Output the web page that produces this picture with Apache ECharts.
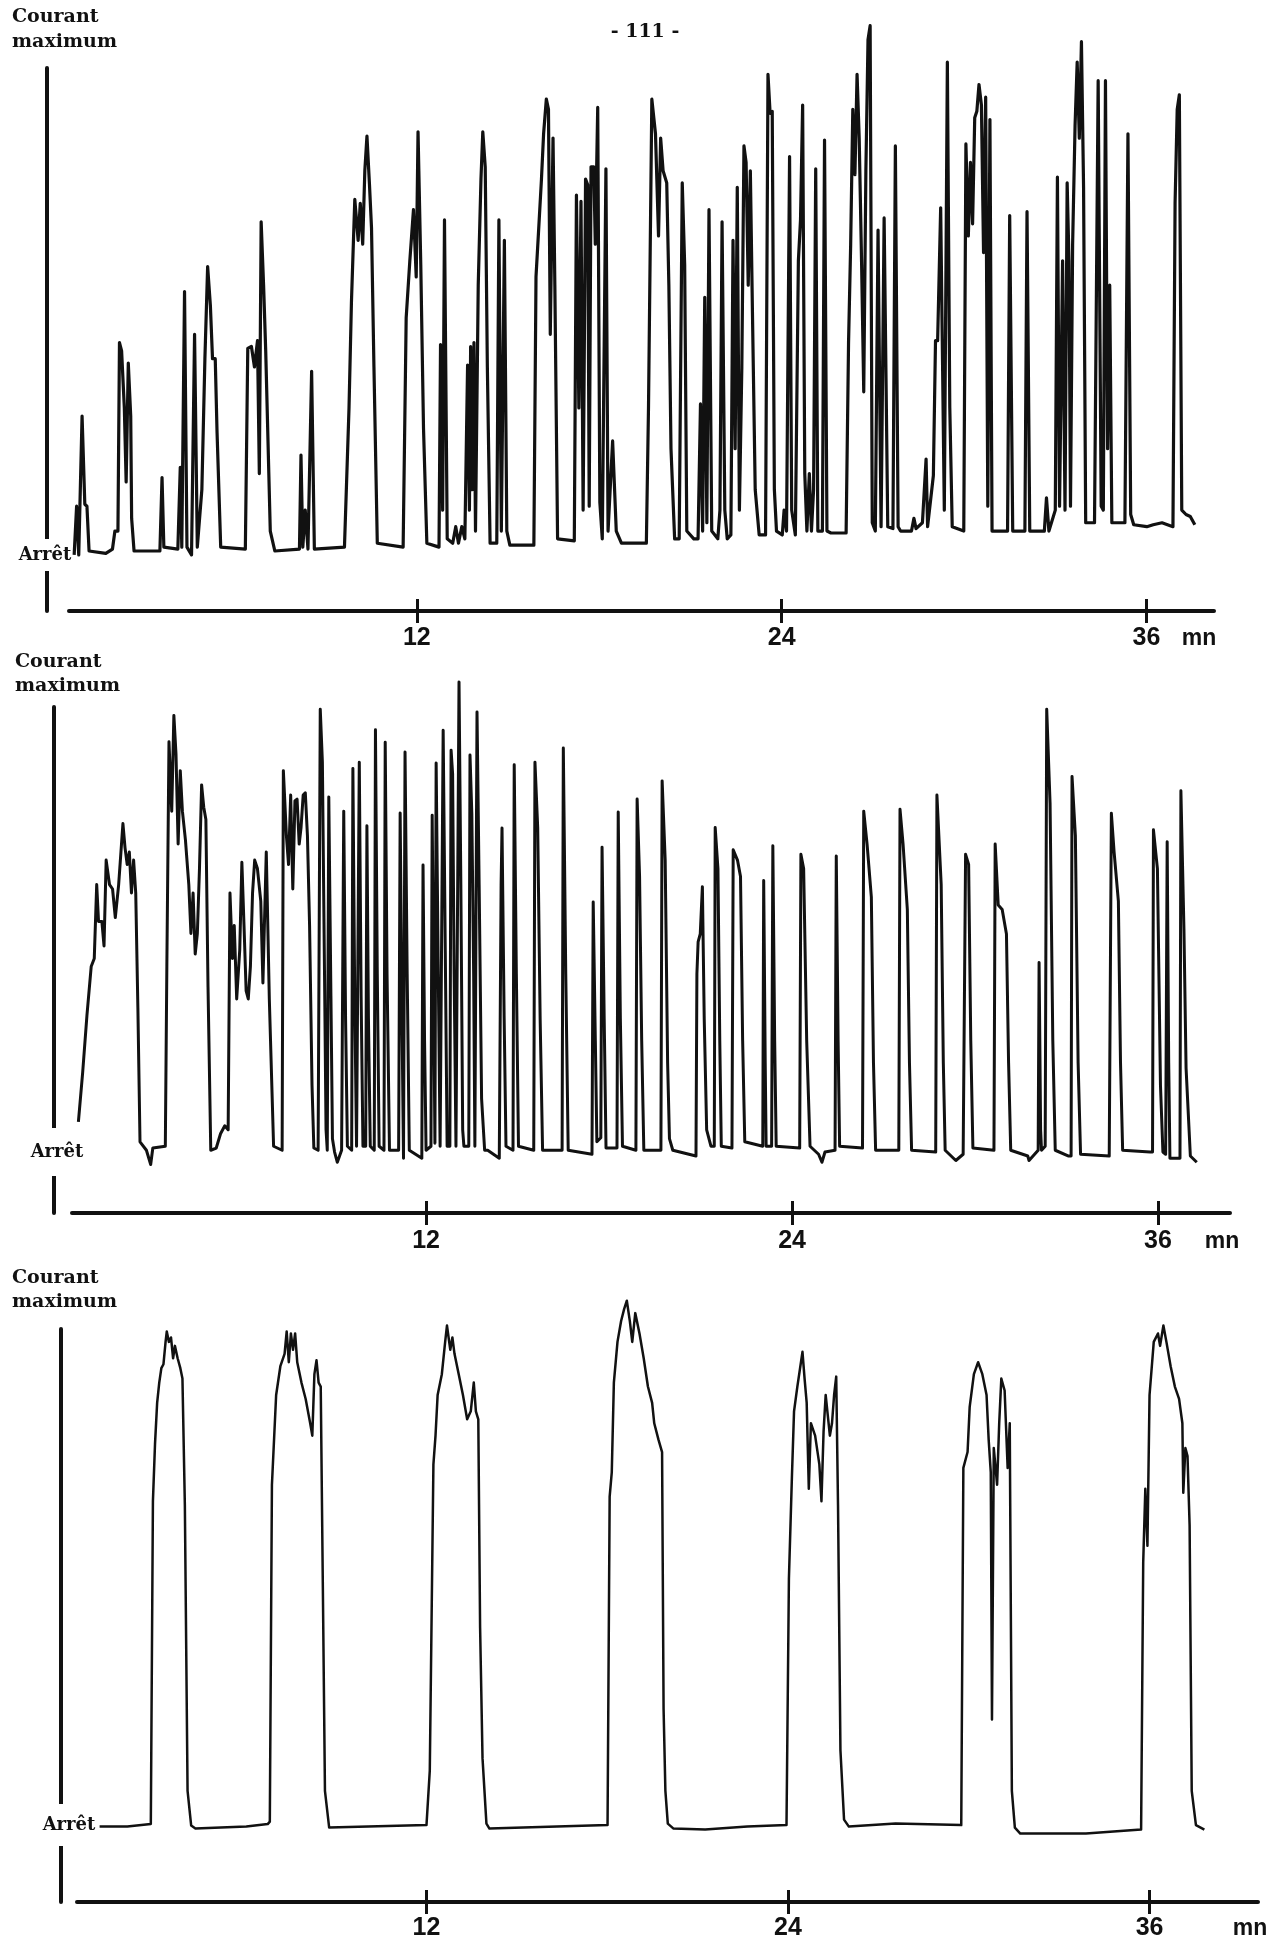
<!DOCTYPE html>
<html>
<head>
<meta charset="utf-8">
<script src="https://cdn.jsdelivr.net/npm/echarts@6/dist/echarts.min.js"></script>
<style>
html,body{margin:0;padding:0;background:#fff;}
#chart{width:1277px;height:1946px;}
</style>
</head>
<body>
<div id="chart"></div>
<script>
// ---- text ----
const pageNumber = '- 111 -';
const yTopLabel = ['Courant', 'maximum'];
const yStopLabel = 'Arrêt';
const unitLabel = 'mn';
const tickValues = [12, 24, 36];

// ---- panel 1 : time (min) / current (0 = Arrêt, 100 = Courant maximum) ----
const p1T = [0.73,0.81,0.88,0.99,1.08,1.15,1.22,1.77,1.99,2.07,2.17,2.22,2.29,2.38,2.44,2.51,2.59,2.62,2.70,3.55,3.62,3.68,4.14,4.22,4.27,4.36,4.44,4.59,4.69,4.78,4.93,5.03,5.12,5.21,5.28,5.37,5.43,5.55,6.36,6.44,6.56,6.66,6.76,6.82,6.88,6.96,7.03,7.18,7.33,8.14,8.19,8.25,8.33,8.42,8.54,8.63,9.62,9.77,9.85,9.96,10.07,10.14,10.22,10.29,10.36,10.44,10.51,10.59,10.70,11.55,11.65,11.77,11.89,11.98,12.04,12.13,12.22,12.33,12.73,12.78,12.85,12.91,13.0,13.18,13.28,13.37,13.48,13.58,13.67,13.73,13.77,13.82,13.88,13.93,14.02,14.11,14.17,14.25,14.32,14.41,14.63,14.70,14.78,14.88,14.96,15.06,15.85,15.92,16.01,16.10,16.17,16.26,16.33,16.39,16.48,16.54,16.63,17.18,17.25,17.33,17.40,17.47,17.55,17.62,17.67,17.73,17.82,17.87,17.95,18.02,18.10,18.22,18.29,18.44,18.56,18.73,19.55,19.62,19.73,19.85,19.95,20.02,20.10,20.22,20.29,20.36,20.48,20.63,20.73,20.81,20.88,
21.11,21.25,21.33,21.40,21.47,21.54,21.61,21.70,21.90,21.97,22.04,22.13,22.21,22.33,22.40,22.47,22.54,22.61,22.69,22.76,22.83,22.90,22.97,23.04,23.13,23.26,23.47,23.55,23.62,23.69,23.76,23.83,24.02,24.08,24.16,24.26,24.33,24.45,24.55,24.62,24.69,24.76,24.83,24.91,24.98,25.05,25.12,25.19,25.34,25.41,25.49,25.62,26.12,26.20,26.27,26.34,26.41,26.48,26.55,26.63,26.70,26.77,26.84,26.91,26.98,27.08,27.17,27.27,27.37,27.49,27.66,27.74,27.83,27.91,28.27,28.35,28.42,28.63,28.75,28.80,28.99,29.06,29.13,29.23,29.35,29.45,29.53,29.61,29.99,30.06,30.14,30.21,30.28,30.35,30.42,30.49,30.57,30.64,30.71,30.78,30.85,30.92,31.43,31.50,31.60,32.0,32.07,32.16,32.64,32.71,32.79,33.0,33.07,33.14,33.24,33.32,33.39,33.45,33.50,33.57,33.65,33.72,33.79,33.86,33.93,34.0,34.29,34.41,34.51,34.58,34.65,34.72,34.79,34.86,35.29,35.39,35.48,35.58,36.01,36.22,36.51,36.87,36.94,37.01,37.08,37.16,37.30,37.44,37.59];
const p1V = [0,10,0,28.5,10.4,10,0.8,0.3,1.2,4.9,4.9,43.6,41.9,30.2,15,39.4,28.5,7.5,0.8,0.8,15.9,1.6,1.2,18,1.6,54.1,1.6,0,45.3,1.6,13.4,40.3,59.2,51.2,40.3,40.3,25.1,1.6,1.2,42.4,42.8,38.6,44,16.7,68.4,55.4,41.9,4.9,0.8,1.2,20.5,1.6,9.2,1.2,37.7,1.2,1.6,30.2,52,73,64.6,72.2,63.8,78.9,86,76.4,67.1,38.6,2.4,1.6,48.7,60.4,70.9,57.1,86.9,59.6,26,2.4,1.6,43.2,9.2,68.8,3.3,2.4,5.8,2.4,5.8,3.3,39,9.2,42.8,13.4,43.6,4.9,55.4,77.2,86.9,79.7,38.6,2.4,2.4,68.8,4.9,64.6,4.9,2,2,57.1,67.1,77.2,86.5,93.6,91.5,45.3,85.6,55.4,3.3,2.9,73.9,30.2,72.6,9.2,77.2,76,10,79.7,79.7,63.8,91.9,10.8,3.3,79.3,4.9,23.4,4.9,2.4,2.4,30.2,93.6,86.5,65.5,85.6,78.9,76.4,55.4,21.8,3.3,3.3,76.4,59.6,4.9,
3.3,3.3,31,4.9,52.9,6.6,70.9,4.9,3.3,9.2,68.4,9.2,3.3,4.1,64.6,21.8,75.5,9.2,38.6,84,80.6,55.4,78.9,49.5,13.4,4.1,4.1,98.7,90.7,91.1,13.4,4.9,4.1,9.2,4.9,81.8,9.2,4.1,60.4,68.8,92.4,16.7,4.9,16.7,4.9,13.4,79.3,4.9,4.9,85.2,4.9,4.5,4.5,43.6,63.8,91.5,78.1,98.7,85.6,59.6,33.5,78.9,105.8,108.7,6.6,4.9,66.7,5.8,69.2,5.8,5.4,84,5.8,4.9,4.9,7.5,5.4,6.6,19.7,5.8,16.3,44,44,71.3,9.2,101.2,30.2,5.8,4.9,84.4,65.5,80.6,68,89.8,91.1,96.6,92.4,62.1,94,10,89.4,4.9,4.9,69.7,4.9,4.9,70.5,4.9,4.9,11.7,4.9,9.2,77.6,10,60.4,9.2,76.4,60.4,10,63.8,88.1,101.2,85.6,105.4,75.5,6.6,6.6,97.4,10,9.2,97.4,21.8,55.4,6.6,6.6,86.5,8.3,6.2,5.8,6.2,6.6,5.8,72.2,91.5,94.5,9.2,8.3,7.9,6.2];

// ---- panel 2 ----
const p2T = [0.60,0.74,0.88,1.02,1.12,1.20,1.26,1.37,1.44,1.51,1.62,1.72,1.81,1.92,2.06,2.13,2.20,2.27,2.34,2.41,2.48,2.55,2.62,2.83,2.97,3.04,3.45,3.50,3.57,3.66,3.73,3.80,3.87,3.94,4.01,4.11,4.22,4.29,4.36,4.43,4.50,4.57,4.64,4.71,4.78,4.85,4.94,5.12,5.26,5.40,5.51,5.57,5.65,5.71,5.79,5.89,5.96,6.03,6.10,6.17,6.24,6.31,6.38,6.47,6.58,6.65,6.76,6.86,7.0,
7.28,7.32,7.42,7.49,7.56,7.63,7.70,7.77,7.84,7.90,7.97,8.04,8.11,8.18,8.26,8.32,8.46,8.50,
8.53,8.60,8.67,8.72,8.76,8.78,8.81,8.88,8.93,9.0,9.09,9.23,9.27,9.30,9.36,9.42,9.56,9.60,9.66,9.72,9.78,9.81,9.87,9.93,10.02,10.06,10.11,10.17,10.30,10.34,10.40,10.46,10.62,10.66,10.72,10.80,
11.10,11.15,11.21,11.26,11.31,11.38,11.45,11.86,11.90,11.95,12.0,12.16,12.20,12.25,12.29,12.31,12.33,12.40,12.46,12.52,12.56,12.63,12.69,12.78,12.82,12.87,12.92,12.98,13.04,13.08,13.14,13.20,13.24,13.40,13.44,13.50,13.56,13.60,13.63,13.67,13.74,13.82,13.92,14.02,14.40,14.44,14.46,14.49,14.56,14.62,
14.85,14.89,14.96,15.03,15.53,15.57,15.66,15.74,15.82,16.46,16.50,16.58,16.66,17.44,17.48,17.55,17.60,17.73,17.77,17.84,17.90,18.26,18.30,18.37,18.44,18.88,18.92,19.0,19.07,19.14,19.70,19.74,19.84,19.92,19.98,20.09,
20.85,20.88,20.92,20.99,21.06,21.12,21.20,21.34,21.45,21.48,21.57,21.63,21.68,22.03,22.07,22.21,22.31,22.38,22.45,23.04,23.07,23.12,23.15,23.33,23.37,23.43,23.48,24.25,24.29,24.38,24.48,24.59,24.87,24.98,25.08,25.41,25.45,25.51,25.56,26.31,26.35,26.46,26.60,26.67,26.74,27.50,27.54,27.64,27.78,27.85,27.92,28.71,28.75,28.89,28.96,29.02,29.37,29.61,29.66,29.69,29.79,29.86,29.93,30.62,30.66,30.76,30.89,31.03,31.10,31.17,31.73,31.77,32.07,32.10,32.15,32.18,32.30,32.35,32.46,32.55,32.63,33.07,33.15,33.18,33.29,33.38,33.46,34.40,34.44,34.47,34.56,34.70,34.77,34.84,35.74,35.82,35.85,35.98,36.08,36.16,36.25,36.28,36.30,36.35,36.39,36.61,36.72,36.75,36.85,36.92,37.06,37.27];
const p2V = [6.8,17.9,30.7,41.7,43.5,60.1,51.8,51.8,46.3,65.6,60.1,59.1,52.7,60.1,73.8,68.3,64.6,67.4,58.2,65.6,58.2,32.5,2.3,0.4,-2.8,0.9,1.3,41.7,92.2,76.6,98.1,89.4,69.2,85.7,76.6,70.1,60.1,49.1,58.2,44.5,49.1,63.7,82.5,77.5,74.7,37.1,0.4,0.9,4.1,5.9,5.0,58.2,43.5,50.9,34.4,45.4,65.1,50.9,36.2,34.4,41.7,58.2,65.6,63.7,56.4,38,67.4,34.4,1.3,
0.4,85.7,71.1,64.6,80.2,59.1,78.9,79.3,69.2,72.9,80.2,80.7,71.1,50.9,15,0.9,0.4,0.5,
99.5,87.6,40,5,0.4,0.4,79.8,35,3,0,-2.3,0.4,0.4,76.6,30,1.3,0.4,86.2,35,1.3,1.3,87.6,35,1.3,1.3,73.3,30,1.3,0.4,94.9,40,1.3,0.4,92.1,40,0.4,
0.4,76.2,30,-1.4,89.9,40,0.4,-1.4,64.5,25,0.4,1.3,75.7,35,2,2,87.4,40,1.3,1.3,94.8,45,1.3,1.3,90.3,85,40,1.3,1.3,105.6,60,5,1.3,1.3,89.2,76,40,1.3,1.3,98.9,60,12,0.4,0.4,-1.4,-1.4,60,72.8,30,1.3,
0.4,87,40,1.3,0.4,87.6,72.9,30,0.4,0.4,90.8,40,0.4,-0.5,56.2,25,2.3,3.2,68.5,30,0.9,0.9,76.4,30,1.3,0.4,79.3,61.9,25,0.4,0.4,83.4,65.6,20,3,0.4,
-0.9,40,47.2,49.0,59.6,30,5.0,1.3,1.3,72.9,63.7,25,1.3,0.9,67.9,65.6,61.9,25,2.3,1.3,61,20,1.3,1.3,68.8,25,1.3,0.9,66.9,63.7,25,1.3,-0.5,-2.3,0,0.4,66.5,25,1.3,0.9,76.6,69.2,57.3,20,0.4,0.4,77,69.2,54.5,20,0.4,0,80.2,60.1,20,0.4,-1.9,-0.5,-0.5,66.9,64.6,25,0.9,0.4,69.2,55.5,54.5,49.0,20,0.4,-0.9,-1.9,0.4,42.6,5,0.4,1.3,99.5,78.4,25,0.4,-0.9,-0.9,84.4,71.1,20,-0.5,-0.9,-0.9,76.1,67.4,56.4,20,0.4,0,0,72.4,63.7,15,0,-0.5,-0.5,69.7,20,-1.4,-1.4,-1.4,81.2,50,18.8,-0.9,-2.3];

// ---- panel 3 ----
const p3T = [1.15,2.07,2.85,2.92,2.99,3.06,3.13,3.20,3.27,3.34,3.38,3.45,3.52,3.59,3.65,3.74,3.83,3.90,3.98,4.07,4.19,4.33,6.02,6.73,6.80,6.87,7.01,7.15,7.29,7.36,7.43,7.50,7.57,7.64,7.71,7.85,7.99,8.14,8.21,8.28,8.35,8.42,8.49,8.56,8.63,8.77,12.0,12.11,12.23,12.30,12.37,12.51,12.62,12.68,12.79,12.86,12.93,13.07,13.21,13.35,13.47,13.57,13.64,13.72,13.78,13.86,13.99,14.09,18.01,18.08,18.15,18.22,18.34,18.46,18.56,18.65,18.75,18.83,18.93,19.07,19.21,19.35,19.49,19.56,19.70,19.82,19.87,19.93,20.01,20.20,21.25,22.65,23.95,24.03,24.13,24.20,24.31,24.41,24.48,24.55,24.62,24.69,24.76,24.90,25.04,25.11,25.18,25.25,25.32,25.39,25.46,25.53,25.60,25.66,25.74,25.86,26.02,27.57,29.75,29.82,29.96,30.03,30.17,30.31,30.45,30.59,30.66,30.73,30.77,30.83,30.94,31.01,31.08,31.19,31.29,31.36,31.43,31.53,31.71,33.89,35.72,35.79,35.86,35.93,36.0,36.14,36.28,36.35,36.46,36.56,36.70,36.84,36.98,37.09,37.12,37.19,37.26,37.33,37.40,37.54,37.82];
const p3V = [-0.3,-0.3,0.2,65.3,76.9,85.1,89.2,92.1,92.9,97.4,99.5,97.4,98.3,94.1,96.6,94.1,92.1,90,64.5,6.9,-0.1,-0.7,-0.3,0.2,0.7,68.6,86.7,92.5,95,99.5,93.3,99.1,95.8,99.1,93.3,89.2,85.9,81,78.5,90.9,93.7,89.2,88.4,48.1,6.9,-0.5,0,11.0,72.7,78.5,86.7,90.9,97.4,100.7,95.8,98.3,95,90.9,86.7,81.8,83.4,89.2,83.4,81.8,39.8,13.5,0.3,-0.7,0,66.2,71.1,89.2,97.4,101.6,104,105.7,101.6,97.4,103.2,99.1,94.1,88.4,85.1,81,77.7,75.2,23.4,6.9,0.3,-0.7,-0.9,-0.3,0,49.7,70.3,83.4,88.4,92.5,95.4,90,85.1,67.8,81,78.5,72.7,65.3,79.3,86.7,82.6,78.5,81,86.7,90.4,64.5,15.1,1.1,-0.3,0.3,0,72,75.2,84.3,90.9,93.3,90.9,86.7,77.7,71.1,21.3,76,68.6,81,90,87.6,72,81,6.9,-0.5,-1.7,-1.7,-0.9,53,67.8,56.3,86.7,97.4,99.1,96.6,100.7,97.4,92.5,88.4,85.9,81,67,76,74.4,60.4,6.9,0,-0.9];

// ---- build option ----
const zip = (t, v) => t.map((x, i) => [x, v[i]]);
const INK = '#111';
const serif = 'DejaVu Serif';
const sans = 'Liberation Sans';

// layout per panel (pixels) and axis ranges
const panels = [
  { T: p1T, V: p1V, grid: {left: 69, top: 68, width: 1145, height: 543}, xMin: 0.56, xMax: 38.22, yMin: -11.52, yOffset: 22, labelMargin: 15, stopMargin: 2, stopPad: 6, lw: 3.2,
    title: {x: 12, y1: 19, y2: 46}, unit: {x: 1199, y: 639} },
  { T: p2T, V: p2V, grid: {left: 72, top: 707, width: 1158, height: 506}, xMin: 0.39, xMax: 38.36, yMin: -13.7, yOffset: 18, labelMargin: 16, stopMargin: -3, stopPad: 14, lw: 3.0,
    title: {x: 15, y1: 664, y2: 690}, unit: {x: 1222, y: 1242} },
  { T: p3T, V: p3V, grid: {left: 77, top: 1329, width: 1181, height: 573}, xMin: 0.40, xMax: 39.6, yMin: -15.5, yOffset: 16, labelMargin: 14, stopMargin: -8, stopPad: 11, lw: 2.5,
    title: {x: 12, y1: 1280, y2: 1306}, unit: {x: 1250, y: 1929} }
];

const grid = [], xAxis = [], yAxis = [], series = [], graphic = [];
panels.forEach((p, i) => {
  grid.push(Object.assign({containLabel: false}, p.grid));
  // main x axis (line, outward ticks, labels)
  xAxis.push({
    type: 'value', gridIndex: i, position: 'bottom', min: p.xMin, max: p.xMax,
    axisLine: {show: true, onZero: false, lineStyle: {color: INK, width: 4}},
    axisTick: {show: true, customValues: tickValues, length: 12, inside: false, lineStyle: {color: INK, width: 3}},
    axisLabel: {show: true, customValues: tickValues, margin: p.labelMargin, color: INK,
      fontFamily: sans, fontWeight: 'bold', fontSize: 25, lineHeight: 25},
    splitLine: {show: false}
  });
  // overlay x axis: inward half of the crossing ticks
  xAxis.push({
    type: 'value', gridIndex: i, position: 'bottom', offset: 0, min: p.xMin, max: p.xMax,
    axisLine: {show: false, onZero: false},
    axisTick: {show: true, customValues: tickValues, length: 12, inside: true, lineStyle: {color: INK, width: 3}},
    axisLabel: {show: false},
    splitLine: {show: false}
  });
  yAxis.push({
    type: 'value', gridIndex: i, position: 'left', offset: p.yOffset, min: p.yMin, max: 100,
    axisLine: {show: true, onZero: false, lineStyle: {color: INK, width: 4}},
    axisTick: {show: false},
    splitLine: {show: false},
    axisLabel: {show: true, customValues: [0], formatter: () => yStopLabel, align: 'center',
      margin: p.stopMargin, color: INK, fontFamily: serif, fontWeight: 'bold', fontSize: 18, lineHeight: 20,
      backgroundColor: '#fff', padding: [p.stopPad, 3, p.stopPad, 3]}
  });
  series.push({
    type: 'line', xAxisIndex: i * 2, yAxisIndex: i, data: zip(p.T, p.V),
    showSymbol: false, symbol: 'none', clip: false, silent: true, z: 3,
    lineStyle: {color: INK, width: p.lw, join: 'round'}
  });
  graphic.push(
    {type: 'text', left: p.title.x, top: p.title.y1 - 11, z: 10,
      style: {text: yTopLabel[0], fill: INK, font: 'bold 19px "' + serif + '"'}},
    {type: 'text', left: p.title.x, top: p.title.y2 - 13, z: 10,
      style: {text: yTopLabel[1], fill: INK, font: 'bold 19px "' + serif + '"'}},
    {type: 'text', x: p.unit.x, y: p.unit.y, z: 10,
      style: {text: unitLabel, fill: INK, font: 'bold 23px "' + sans + '"', textAlign: 'center', textVerticalAlign: 'middle'}}
  );
});
graphic.push({type: 'text', x: 645, y: 32, z: 10,
  style: {text: pageNumber, fill: INK, font: 'bold 19px "' + serif + '"', textAlign: 'center', textVerticalAlign: 'middle'}});

const chart = echarts.init(document.getElementById('chart'), null, {renderer: 'canvas'});
chart.setOption({
  backgroundColor: '#fff',
  animation: false,
  grid, xAxis, yAxis, series, graphic
});
</script>
</body>
</html>
